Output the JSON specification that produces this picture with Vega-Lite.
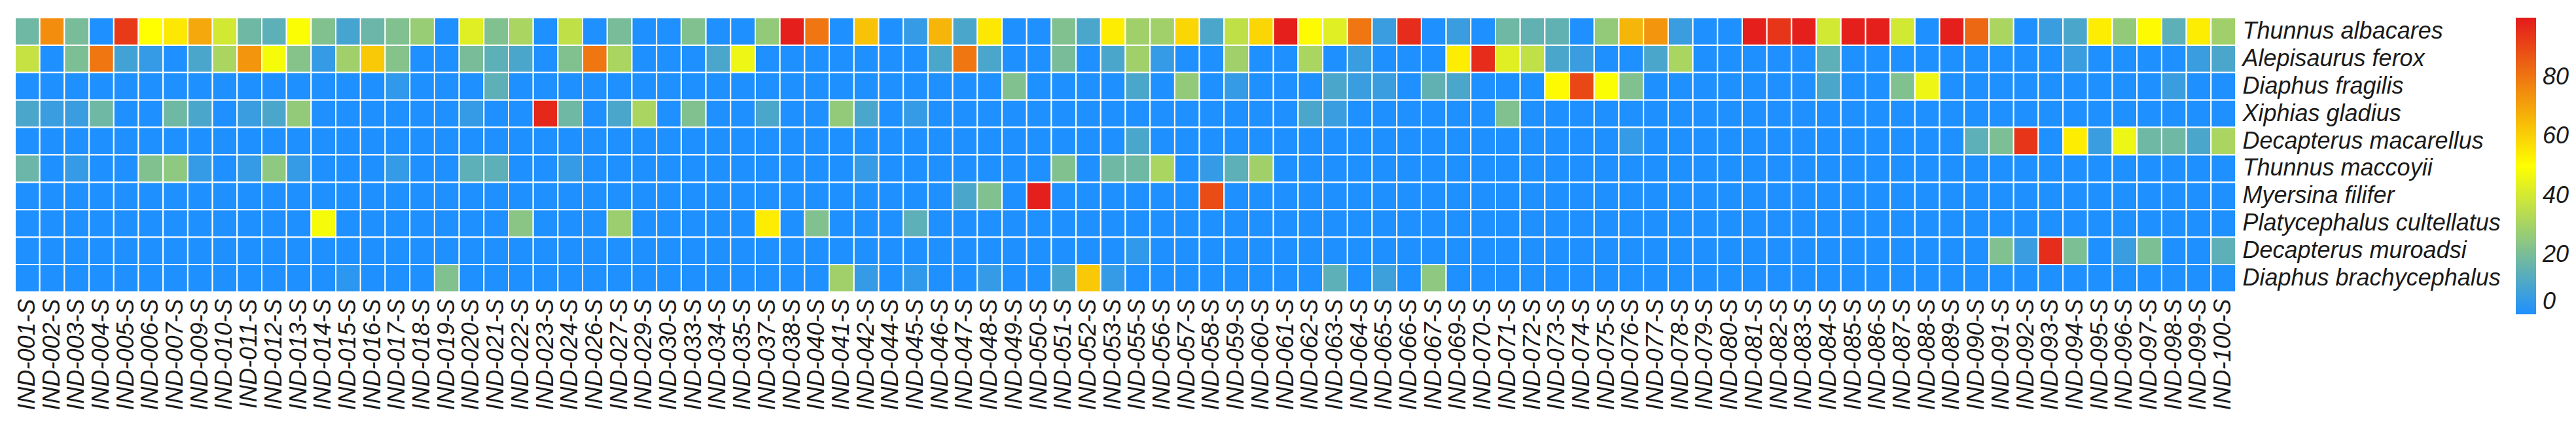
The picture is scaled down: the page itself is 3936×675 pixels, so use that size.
{
"$schema": "https://vega.github.io/schema/vega-lite/v6.json",
"width": 3393,
"height": 419,
"autosize": {"type": "none"},
"padding": {"left": 23, "top": 27, "right": 520, "bottom": 229},
"background": "white",
"config": {"view": {"stroke": null}, "font": "Liberation Sans"},
"datasets": {
"species": [
{"r":1,"name":"Thunnus albacares"},{"r":2,"name":"Alepisaurus ferox"},{"r":3,"name":"Diaphus fragilis"},{"r":4,"name":"Xiphias gladius"},{"r":5,"name":"Decapterus macarellus"},{"r":6,"name":"Thunnus maccoyii"},{"r":7,"name":"Myersina filifer"},{"r":8,"name":"Platycephalus cultellatus"},{"r":9,"name":"Decapterus muroadsi"},{"r":10,"name":"Diaphus brachycephalus"}
]
},
"data": {"values": [
{"s":"IND-001-S","r":1,"v":18},{"s":"IND-002-S","r":1,"v":75},{"s":"IND-003-S","r":1,"v":20},{"s":"IND-004-S","r":1,"v":0},{"s":"IND-005-S","r":1,"v":93},{"s":"IND-006-S","r":1,"v":50},{"s":"IND-007-S","r":1,"v":55},{"s":"IND-009-S","r":1,"v":69},{"s":"IND-010-S","r":1,"v":40},{"s":"IND-011-S","r":1,"v":18},{"s":"IND-012-S","r":1,"v":14},{"s":"IND-013-S","r":1,"v":49},{"s":"IND-014-S","r":1,"v":22},{"s":"IND-015-S","r":1,"v":9},{"s":"IND-016-S","r":1,"v":17},{"s":"IND-017-S","r":1,"v":22},{"s":"IND-018-S","r":1,"v":27},{"s":"IND-019-S","r":1,"v":0},
{"s":"IND-020-S","r":1,"v":43},{"s":"IND-021-S","r":1,"v":22},{"s":"IND-022-S","r":1,"v":31},{"s":"IND-023-S","r":1,"v":0},{"s":"IND-024-S","r":1,"v":36},{"s":"IND-026-S","r":1,"v":0},{"s":"IND-027-S","r":1,"v":20},{"s":"IND-029-S","r":1,"v":0},{"s":"IND-030-S","r":1,"v":0},{"s":"IND-033-S","r":1,"v":22},{"s":"IND-034-S","r":1,"v":0},{"s":"IND-035-S","r":1,"v":0},{"s":"IND-037-S","r":1,"v":26},{"s":"IND-038-S","r":1,"v":99},{"s":"IND-040-S","r":1,"v":80},{"s":"IND-041-S","r":1,"v":0},{"s":"IND-042-S","r":1,"v":63},{"s":"IND-044-S","r":1,"v":0},
{"s":"IND-045-S","r":1,"v":5},{"s":"IND-046-S","r":1,"v":66},{"s":"IND-047-S","r":1,"v":10},{"s":"IND-048-S","r":1,"v":55},{"s":"IND-049-S","r":1,"v":0},{"s":"IND-050-S","r":1,"v":0},{"s":"IND-051-S","r":1,"v":22},{"s":"IND-052-S","r":1,"v":10},{"s":"IND-053-S","r":1,"v":54},{"s":"IND-055-S","r":1,"v":29},{"s":"IND-056-S","r":1,"v":29},{"s":"IND-057-S","r":1,"v":59},{"s":"IND-058-S","r":1,"v":10},{"s":"IND-059-S","r":1,"v":36},{"s":"IND-060-S","r":1,"v":59},{"s":"IND-061-S","r":1,"v":99},{"s":"IND-062-S","r":1,"v":51},{"s":"IND-063-S","r":1,"v":43},
{"s":"IND-064-S","r":1,"v":80},{"s":"IND-065-S","r":1,"v":6},{"s":"IND-066-S","r":1,"v":96},{"s":"IND-067-S","r":1,"v":0},{"s":"IND-069-S","r":1,"v":6},{"s":"IND-070-S","r":1,"v":0},{"s":"IND-071-S","r":1,"v":18},{"s":"IND-072-S","r":1,"v":15},{"s":"IND-073-S","r":1,"v":15},{"s":"IND-074-S","r":1,"v":0},{"s":"IND-075-S","r":1,"v":26},{"s":"IND-076-S","r":1,"v":66},{"s":"IND-077-S","r":1,"v":73},{"s":"IND-078-S","r":1,"v":6},{"s":"IND-079-S","r":1,"v":0},{"s":"IND-080-S","r":1,"v":0},{"s":"IND-081-S","r":1,"v":99},{"s":"IND-082-S","r":1,"v":94},
{"s":"IND-083-S","r":1,"v":99},{"s":"IND-084-S","r":1,"v":40},{"s":"IND-085-S","r":1,"v":99},{"s":"IND-086-S","r":1,"v":99},{"s":"IND-087-S","r":1,"v":40},{"s":"IND-088-S","r":1,"v":0},{"s":"IND-089-S","r":1,"v":99},{"s":"IND-090-S","r":1,"v":83},{"s":"IND-091-S","r":1,"v":31},{"s":"IND-092-S","r":1,"v":0},{"s":"IND-093-S","r":1,"v":6},{"s":"IND-094-S","r":1,"v":10},{"s":"IND-095-S","r":1,"v":54},{"s":"IND-096-S","r":1,"v":26},{"s":"IND-097-S","r":1,"v":51},{"s":"IND-098-S","r":1,"v":14},{"s":"IND-099-S","r":1,"v":54},{"s":"IND-100-S","r":1,"v":29},

{"s":"IND-001-S","r":2,"v":37},{"s":"IND-002-S","r":2,"v":0},{"s":"IND-003-S","r":2,"v":21},{"s":"IND-004-S","r":2,"v":80},{"s":"IND-005-S","r":2,"v":8},{"s":"IND-006-S","r":2,"v":5},{"s":"IND-007-S","r":2,"v":0},{"s":"IND-009-S","r":2,"v":10},{"s":"IND-010-S","r":2,"v":31},{"s":"IND-011-S","r":2,"v":73},{"s":"IND-012-S","r":2,"v":48},{"s":"IND-013-S","r":2,"v":23},{"s":"IND-014-S","r":2,"v":5},{"s":"IND-015-S","r":2,"v":29},{"s":"IND-016-S","r":2,"v":62},{"s":"IND-017-S","r":2,"v":23},{"s":"IND-018-S","r":2,"v":0},{"s":"IND-019-S","r":2,"v":0},
{"s":"IND-020-S","r":2,"v":20},{"s":"IND-021-S","r":2,"v":14},{"s":"IND-022-S","r":2,"v":10},{"s":"IND-023-S","r":2,"v":0},{"s":"IND-024-S","r":2,"v":22},{"s":"IND-026-S","r":2,"v":80},{"s":"IND-027-S","r":2,"v":31},{"s":"IND-029-S","r":2,"v":0},{"s":"IND-030-S","r":2,"v":0},{"s":"IND-033-S","r":2,"v":0},{"s":"IND-034-S","r":2,"v":10},{"s":"IND-035-S","r":2,"v":46},{"s":"IND-037-S","r":2,"v":0},{"s":"IND-038-S","r":2,"v":0},{"s":"IND-040-S","r":2,"v":0},{"s":"IND-041-S","r":2,"v":0},{"s":"IND-042-S","r":2,"v":0},{"s":"IND-044-S","r":2,"v":0},
{"s":"IND-045-S","r":2,"v":0},{"s":"IND-046-S","r":2,"v":10},{"s":"IND-047-S","r":2,"v":80},{"s":"IND-048-S","r":2,"v":10},{"s":"IND-049-S","r":2,"v":0},{"s":"IND-050-S","r":2,"v":0},{"s":"IND-051-S","r":2,"v":20},{"s":"IND-052-S","r":2,"v":0},{"s":"IND-053-S","r":2,"v":10},{"s":"IND-055-S","r":2,"v":29},{"s":"IND-056-S","r":2,"v":5},{"s":"IND-057-S","r":2,"v":0},{"s":"IND-058-S","r":2,"v":0},{"s":"IND-059-S","r":2,"v":29},{"s":"IND-060-S","r":2,"v":0},{"s":"IND-061-S","r":2,"v":0},{"s":"IND-062-S","r":2,"v":31},{"s":"IND-063-S","r":2,"v":0},
{"s":"IND-064-S","r":2,"v":6},{"s":"IND-065-S","r":2,"v":0},{"s":"IND-066-S","r":2,"v":0},{"s":"IND-067-S","r":2,"v":0},{"s":"IND-069-S","r":2,"v":54},{"s":"IND-070-S","r":2,"v":96},{"s":"IND-071-S","r":2,"v":43},{"s":"IND-072-S","r":2,"v":36},{"s":"IND-073-S","r":2,"v":10},{"s":"IND-074-S","r":2,"v":6},{"s":"IND-075-S","r":2,"v":0},{"s":"IND-076-S","r":2,"v":0},{"s":"IND-077-S","r":2,"v":10},{"s":"IND-078-S","r":2,"v":31},{"s":"IND-079-S","r":2,"v":0},{"s":"IND-080-S","r":2,"v":0},{"s":"IND-081-S","r":2,"v":0},{"s":"IND-082-S","r":2,"v":0},
{"s":"IND-083-S","r":2,"v":0},{"s":"IND-084-S","r":2,"v":14},{"s":"IND-085-S","r":2,"v":0},{"s":"IND-086-S","r":2,"v":0},{"s":"IND-087-S","r":2,"v":0},{"s":"IND-088-S","r":2,"v":0},{"s":"IND-089-S","r":2,"v":0},{"s":"IND-090-S","r":2,"v":0},{"s":"IND-091-S","r":2,"v":0},{"s":"IND-092-S","r":2,"v":0},{"s":"IND-093-S","r":2,"v":0},{"s":"IND-094-S","r":2,"v":6},{"s":"IND-095-S","r":2,"v":0},{"s":"IND-096-S","r":2,"v":0},{"s":"IND-097-S","r":2,"v":0},{"s":"IND-098-S","r":2,"v":0},{"s":"IND-099-S","r":2,"v":6},{"s":"IND-100-S","r":2,"v":10},

{"s":"IND-001-S","r":3,"v":0},{"s":"IND-002-S","r":3,"v":0},{"s":"IND-003-S","r":3,"v":0},{"s":"IND-004-S","r":3,"v":0},{"s":"IND-005-S","r":3,"v":0},{"s":"IND-006-S","r":3,"v":0},{"s":"IND-007-S","r":3,"v":0},{"s":"IND-009-S","r":3,"v":0},{"s":"IND-010-S","r":3,"v":0},{"s":"IND-011-S","r":3,"v":0},{"s":"IND-012-S","r":3,"v":0},{"s":"IND-013-S","r":3,"v":0},{"s":"IND-014-S","r":3,"v":0},{"s":"IND-015-S","r":3,"v":0},{"s":"IND-016-S","r":3,"v":0},{"s":"IND-017-S","r":3,"v":4},{"s":"IND-018-S","r":3,"v":0},{"s":"IND-019-S","r":3,"v":0},
{"s":"IND-020-S","r":3,"v":0},{"s":"IND-021-S","r":3,"v":14},{"s":"IND-022-S","r":3,"v":0},{"s":"IND-023-S","r":3,"v":0},{"s":"IND-024-S","r":3,"v":0},{"s":"IND-026-S","r":3,"v":0},{"s":"IND-027-S","r":3,"v":0},{"s":"IND-029-S","r":3,"v":0},{"s":"IND-030-S","r":3,"v":0},{"s":"IND-033-S","r":3,"v":0},{"s":"IND-034-S","r":3,"v":0},{"s":"IND-035-S","r":3,"v":0},{"s":"IND-037-S","r":3,"v":0},{"s":"IND-038-S","r":3,"v":0},{"s":"IND-040-S","r":3,"v":0},{"s":"IND-041-S","r":3,"v":0},{"s":"IND-042-S","r":3,"v":0},{"s":"IND-044-S","r":3,"v":0},
{"s":"IND-045-S","r":3,"v":0},{"s":"IND-046-S","r":3,"v":0},{"s":"IND-047-S","r":3,"v":0},{"s":"IND-048-S","r":3,"v":0},{"s":"IND-049-S","r":3,"v":22},{"s":"IND-050-S","r":3,"v":0},{"s":"IND-051-S","r":3,"v":0},{"s":"IND-052-S","r":3,"v":0},{"s":"IND-053-S","r":3,"v":0},{"s":"IND-055-S","r":3,"v":10},{"s":"IND-056-S","r":3,"v":0},{"s":"IND-057-S","r":3,"v":26},{"s":"IND-058-S","r":3,"v":0},{"s":"IND-059-S","r":3,"v":5},{"s":"IND-060-S","r":3,"v":0},{"s":"IND-061-S","r":3,"v":0},{"s":"IND-062-S","r":3,"v":0},{"s":"IND-063-S","r":3,"v":10},
{"s":"IND-064-S","r":3,"v":6},{"s":"IND-065-S","r":3,"v":6},{"s":"IND-066-S","r":3,"v":0},{"s":"IND-067-S","r":3,"v":15},{"s":"IND-069-S","r":3,"v":10},{"s":"IND-070-S","r":3,"v":0},{"s":"IND-071-S","r":3,"v":0},{"s":"IND-072-S","r":3,"v":0},{"s":"IND-073-S","r":3,"v":51},{"s":"IND-074-S","r":3,"v":90},{"s":"IND-075-S","r":3,"v":49},{"s":"IND-076-S","r":3,"v":22},{"s":"IND-077-S","r":3,"v":0},{"s":"IND-078-S","r":3,"v":0},{"s":"IND-079-S","r":3,"v":0},{"s":"IND-080-S","r":3,"v":0},{"s":"IND-081-S","r":3,"v":0},{"s":"IND-082-S","r":3,"v":0},
{"s":"IND-083-S","r":3,"v":0},{"s":"IND-084-S","r":3,"v":10},{"s":"IND-085-S","r":3,"v":0},{"s":"IND-086-S","r":3,"v":0},{"s":"IND-087-S","r":3,"v":22},{"s":"IND-088-S","r":3,"v":46},{"s":"IND-089-S","r":3,"v":0},{"s":"IND-090-S","r":3,"v":0},{"s":"IND-091-S","r":3,"v":0},{"s":"IND-092-S","r":3,"v":0},{"s":"IND-093-S","r":3,"v":0},{"s":"IND-094-S","r":3,"v":0},{"s":"IND-095-S","r":3,"v":0},{"s":"IND-096-S","r":3,"v":0},{"s":"IND-097-S","r":3,"v":0},{"s":"IND-098-S","r":3,"v":6},{"s":"IND-099-S","r":3,"v":0},{"s":"IND-100-S","r":3,"v":0},

{"s":"IND-001-S","r":4,"v":10},{"s":"IND-002-S","r":4,"v":6},{"s":"IND-003-S","r":4,"v":6},{"s":"IND-004-S","r":4,"v":18},{"s":"IND-005-S","r":4,"v":0},{"s":"IND-006-S","r":4,"v":0},{"s":"IND-007-S","r":4,"v":18},{"s":"IND-009-S","r":4,"v":10},{"s":"IND-010-S","r":4,"v":0},{"s":"IND-011-S","r":4,"v":6},{"s":"IND-012-S","r":4,"v":10},{"s":"IND-013-S","r":4,"v":26},{"s":"IND-014-S","r":4,"v":0},{"s":"IND-015-S","r":4,"v":0},{"s":"IND-016-S","r":4,"v":0},{"s":"IND-017-S","r":4,"v":0},{"s":"IND-018-S","r":4,"v":0},{"s":"IND-019-S","r":4,"v":0},
{"s":"IND-020-S","r":4,"v":5},{"s":"IND-021-S","r":4,"v":0},{"s":"IND-022-S","r":4,"v":0},{"s":"IND-023-S","r":4,"v":97},{"s":"IND-024-S","r":4,"v":18},{"s":"IND-026-S","r":4,"v":0},{"s":"IND-027-S","r":4,"v":10},{"s":"IND-029-S","r":4,"v":31},{"s":"IND-030-S","r":4,"v":0},{"s":"IND-033-S","r":4,"v":22},{"s":"IND-034-S","r":4,"v":0},{"s":"IND-035-S","r":4,"v":0},{"s":"IND-037-S","r":4,"v":10},{"s":"IND-038-S","r":4,"v":0},{"s":"IND-040-S","r":4,"v":0},{"s":"IND-041-S","r":4,"v":26},{"s":"IND-042-S","r":4,"v":10},{"s":"IND-044-S","r":4,"v":0},
{"s":"IND-045-S","r":4,"v":5},{"s":"IND-046-S","r":4,"v":0},{"s":"IND-047-S","r":4,"v":0},{"s":"IND-048-S","r":4,"v":0},{"s":"IND-049-S","r":4,"v":0},{"s":"IND-050-S","r":4,"v":0},{"s":"IND-051-S","r":4,"v":0},{"s":"IND-052-S","r":4,"v":0},{"s":"IND-053-S","r":4,"v":0},{"s":"IND-055-S","r":4,"v":0},{"s":"IND-056-S","r":4,"v":0},{"s":"IND-057-S","r":4,"v":0},{"s":"IND-058-S","r":4,"v":0},{"s":"IND-059-S","r":4,"v":0},{"s":"IND-060-S","r":4,"v":0},{"s":"IND-061-S","r":4,"v":0},{"s":"IND-062-S","r":4,"v":10},{"s":"IND-063-S","r":4,"v":6},
{"s":"IND-064-S","r":4,"v":0},{"s":"IND-065-S","r":4,"v":0},{"s":"IND-066-S","r":4,"v":0},{"s":"IND-067-S","r":4,"v":0},{"s":"IND-069-S","r":4,"v":0},{"s":"IND-070-S","r":4,"v":0},{"s":"IND-071-S","r":4,"v":22},{"s":"IND-072-S","r":4,"v":0},{"s":"IND-073-S","r":4,"v":0},{"s":"IND-074-S","r":4,"v":0},{"s":"IND-075-S","r":4,"v":0},{"s":"IND-076-S","r":4,"v":0},{"s":"IND-077-S","r":4,"v":0},{"s":"IND-078-S","r":4,"v":0},{"s":"IND-079-S","r":4,"v":0},{"s":"IND-080-S","r":4,"v":0},{"s":"IND-081-S","r":4,"v":0},{"s":"IND-082-S","r":4,"v":0},
{"s":"IND-083-S","r":4,"v":0},{"s":"IND-084-S","r":4,"v":0},{"s":"IND-085-S","r":4,"v":0},{"s":"IND-086-S","r":4,"v":0},{"s":"IND-087-S","r":4,"v":0},{"s":"IND-088-S","r":4,"v":0},{"s":"IND-089-S","r":4,"v":0},{"s":"IND-090-S","r":4,"v":0},{"s":"IND-091-S","r":4,"v":0},{"s":"IND-092-S","r":4,"v":0},{"s":"IND-093-S","r":4,"v":0},{"s":"IND-094-S","r":4,"v":0},{"s":"IND-095-S","r":4,"v":0},{"s":"IND-096-S","r":4,"v":0},{"s":"IND-097-S","r":4,"v":0},{"s":"IND-098-S","r":4,"v":0},{"s":"IND-099-S","r":4,"v":0},{"s":"IND-100-S","r":4,"v":0},

{"s":"IND-001-S","r":5,"v":0},{"s":"IND-002-S","r":5,"v":0},{"s":"IND-003-S","r":5,"v":0},{"s":"IND-004-S","r":5,"v":0},{"s":"IND-005-S","r":5,"v":0},{"s":"IND-006-S","r":5,"v":0},{"s":"IND-007-S","r":5,"v":0},{"s":"IND-009-S","r":5,"v":0},{"s":"IND-010-S","r":5,"v":0},{"s":"IND-011-S","r":5,"v":0},{"s":"IND-012-S","r":5,"v":0},{"s":"IND-013-S","r":5,"v":0},{"s":"IND-014-S","r":5,"v":0},{"s":"IND-015-S","r":5,"v":0},{"s":"IND-016-S","r":5,"v":0},{"s":"IND-017-S","r":5,"v":0},{"s":"IND-018-S","r":5,"v":0},{"s":"IND-019-S","r":5,"v":0},
{"s":"IND-020-S","r":5,"v":0},{"s":"IND-021-S","r":5,"v":0},{"s":"IND-022-S","r":5,"v":0},{"s":"IND-023-S","r":5,"v":0},{"s":"IND-024-S","r":5,"v":0},{"s":"IND-026-S","r":5,"v":0},{"s":"IND-027-S","r":5,"v":0},{"s":"IND-029-S","r":5,"v":0},{"s":"IND-030-S","r":5,"v":0},{"s":"IND-033-S","r":5,"v":0},{"s":"IND-034-S","r":5,"v":0},{"s":"IND-035-S","r":5,"v":0},{"s":"IND-037-S","r":5,"v":0},{"s":"IND-038-S","r":5,"v":0},{"s":"IND-040-S","r":5,"v":0},{"s":"IND-041-S","r":5,"v":0},{"s":"IND-042-S","r":5,"v":0},{"s":"IND-044-S","r":5,"v":0},
{"s":"IND-045-S","r":5,"v":0},{"s":"IND-046-S","r":5,"v":0},{"s":"IND-047-S","r":5,"v":0},{"s":"IND-048-S","r":5,"v":0},{"s":"IND-049-S","r":5,"v":0},{"s":"IND-050-S","r":5,"v":0},{"s":"IND-051-S","r":5,"v":0},{"s":"IND-052-S","r":5,"v":0},{"s":"IND-053-S","r":5,"v":0},{"s":"IND-055-S","r":5,"v":10},{"s":"IND-056-S","r":5,"v":0},{"s":"IND-057-S","r":5,"v":0},{"s":"IND-058-S","r":5,"v":0},{"s":"IND-059-S","r":5,"v":0},{"s":"IND-060-S","r":5,"v":0},{"s":"IND-061-S","r":5,"v":0},{"s":"IND-062-S","r":5,"v":0},{"s":"IND-063-S","r":5,"v":0},
{"s":"IND-064-S","r":5,"v":0},{"s":"IND-065-S","r":5,"v":0},{"s":"IND-066-S","r":5,"v":0},{"s":"IND-067-S","r":5,"v":0},{"s":"IND-069-S","r":5,"v":0},{"s":"IND-070-S","r":5,"v":0},{"s":"IND-071-S","r":5,"v":0},{"s":"IND-072-S","r":5,"v":0},{"s":"IND-073-S","r":5,"v":0},{"s":"IND-074-S","r":5,"v":0},{"s":"IND-075-S","r":5,"v":0},{"s":"IND-076-S","r":5,"v":5},{"s":"IND-077-S","r":5,"v":0},{"s":"IND-078-S","r":5,"v":0},{"s":"IND-079-S","r":5,"v":0},{"s":"IND-080-S","r":5,"v":0},{"s":"IND-081-S","r":5,"v":0},{"s":"IND-082-S","r":5,"v":0},
{"s":"IND-083-S","r":5,"v":0},{"s":"IND-084-S","r":5,"v":0},{"s":"IND-085-S","r":5,"v":0},{"s":"IND-086-S","r":5,"v":0},{"s":"IND-087-S","r":5,"v":0},{"s":"IND-088-S","r":5,"v":0},{"s":"IND-089-S","r":5,"v":0},{"s":"IND-090-S","r":5,"v":14},{"s":"IND-091-S","r":5,"v":21},{"s":"IND-092-S","r":5,"v":94},{"s":"IND-093-S","r":5,"v":0},{"s":"IND-094-S","r":5,"v":54},{"s":"IND-095-S","r":5,"v":6},{"s":"IND-096-S","r":5,"v":46},{"s":"IND-097-S","r":5,"v":18},{"s":"IND-098-S","r":5,"v":18},{"s":"IND-099-S","r":5,"v":10},{"s":"IND-100-S","r":5,"v":31},

{"s":"IND-001-S","r":6,"v":17},{"s":"IND-002-S","r":6,"v":0},{"s":"IND-003-S","r":6,"v":5},{"s":"IND-004-S","r":6,"v":0},{"s":"IND-005-S","r":6,"v":0},{"s":"IND-006-S","r":6,"v":22},{"s":"IND-007-S","r":6,"v":25},{"s":"IND-009-S","r":6,"v":5},{"s":"IND-010-S","r":6,"v":0},{"s":"IND-011-S","r":6,"v":5},{"s":"IND-012-S","r":6,"v":25},{"s":"IND-013-S","r":6,"v":5},{"s":"IND-014-S","r":6,"v":0},{"s":"IND-015-S","r":6,"v":0},{"s":"IND-016-S","r":6,"v":0},{"s":"IND-017-S","r":6,"v":5},{"s":"IND-018-S","r":6,"v":0},{"s":"IND-019-S","r":6,"v":0},
{"s":"IND-020-S","r":6,"v":14},{"s":"IND-021-S","r":6,"v":14},{"s":"IND-022-S","r":6,"v":0},{"s":"IND-023-S","r":6,"v":0},{"s":"IND-024-S","r":6,"v":5},{"s":"IND-026-S","r":6,"v":0},{"s":"IND-027-S","r":6,"v":0},{"s":"IND-029-S","r":6,"v":0},{"s":"IND-030-S","r":6,"v":0},{"s":"IND-033-S","r":6,"v":0},{"s":"IND-034-S","r":6,"v":0},{"s":"IND-035-S","r":6,"v":0},{"s":"IND-037-S","r":6,"v":0},{"s":"IND-038-S","r":6,"v":0},{"s":"IND-040-S","r":6,"v":0},{"s":"IND-041-S","r":6,"v":0},{"s":"IND-042-S","r":6,"v":5},{"s":"IND-044-S","r":6,"v":0},
{"s":"IND-045-S","r":6,"v":0},{"s":"IND-046-S","r":6,"v":0},{"s":"IND-047-S","r":6,"v":0},{"s":"IND-048-S","r":6,"v":0},{"s":"IND-049-S","r":6,"v":0},{"s":"IND-050-S","r":6,"v":0},{"s":"IND-051-S","r":6,"v":22},{"s":"IND-052-S","r":6,"v":0},{"s":"IND-053-S","r":6,"v":18},{"s":"IND-055-S","r":6,"v":18},{"s":"IND-056-S","r":6,"v":31},{"s":"IND-057-S","r":6,"v":0},{"s":"IND-058-S","r":6,"v":5},{"s":"IND-059-S","r":6,"v":14},{"s":"IND-060-S","r":6,"v":29},{"s":"IND-061-S","r":6,"v":0},{"s":"IND-062-S","r":6,"v":0},{"s":"IND-063-S","r":6,"v":0},
{"s":"IND-064-S","r":6,"v":0},{"s":"IND-065-S","r":6,"v":0},{"s":"IND-066-S","r":6,"v":0},{"s":"IND-067-S","r":6,"v":0},{"s":"IND-069-S","r":6,"v":0},{"s":"IND-070-S","r":6,"v":0},{"s":"IND-071-S","r":6,"v":0},{"s":"IND-072-S","r":6,"v":0},{"s":"IND-073-S","r":6,"v":0},{"s":"IND-074-S","r":6,"v":0},{"s":"IND-075-S","r":6,"v":0},{"s":"IND-076-S","r":6,"v":0},{"s":"IND-077-S","r":6,"v":0},{"s":"IND-078-S","r":6,"v":0},{"s":"IND-079-S","r":6,"v":0},{"s":"IND-080-S","r":6,"v":0},{"s":"IND-081-S","r":6,"v":0},{"s":"IND-082-S","r":6,"v":0},
{"s":"IND-083-S","r":6,"v":0},{"s":"IND-084-S","r":6,"v":0},{"s":"IND-085-S","r":6,"v":0},{"s":"IND-086-S","r":6,"v":0},{"s":"IND-087-S","r":6,"v":0},{"s":"IND-088-S","r":6,"v":0},{"s":"IND-089-S","r":6,"v":0},{"s":"IND-090-S","r":6,"v":0},{"s":"IND-091-S","r":6,"v":0},{"s":"IND-092-S","r":6,"v":0},{"s":"IND-093-S","r":6,"v":0},{"s":"IND-094-S","r":6,"v":0},{"s":"IND-095-S","r":6,"v":0},{"s":"IND-096-S","r":6,"v":0},{"s":"IND-097-S","r":6,"v":0},{"s":"IND-098-S","r":6,"v":0},{"s":"IND-099-S","r":6,"v":0},{"s":"IND-100-S","r":6,"v":0},

{"s":"IND-001-S","r":7,"v":0},{"s":"IND-002-S","r":7,"v":0},{"s":"IND-003-S","r":7,"v":0},{"s":"IND-004-S","r":7,"v":0},{"s":"IND-005-S","r":7,"v":0},{"s":"IND-006-S","r":7,"v":0},{"s":"IND-007-S","r":7,"v":0},{"s":"IND-009-S","r":7,"v":0},{"s":"IND-010-S","r":7,"v":0},{"s":"IND-011-S","r":7,"v":0},{"s":"IND-012-S","r":7,"v":0},{"s":"IND-013-S","r":7,"v":0},{"s":"IND-014-S","r":7,"v":0},{"s":"IND-015-S","r":7,"v":0},{"s":"IND-016-S","r":7,"v":0},{"s":"IND-017-S","r":7,"v":0},{"s":"IND-018-S","r":7,"v":0},{"s":"IND-019-S","r":7,"v":0},
{"s":"IND-020-S","r":7,"v":0},{"s":"IND-021-S","r":7,"v":0},{"s":"IND-022-S","r":7,"v":0},{"s":"IND-023-S","r":7,"v":0},{"s":"IND-024-S","r":7,"v":0},{"s":"IND-026-S","r":7,"v":0},{"s":"IND-027-S","r":7,"v":0},{"s":"IND-029-S","r":7,"v":0},{"s":"IND-030-S","r":7,"v":0},{"s":"IND-033-S","r":7,"v":0},{"s":"IND-034-S","r":7,"v":0},{"s":"IND-035-S","r":7,"v":0},{"s":"IND-037-S","r":7,"v":0},{"s":"IND-038-S","r":7,"v":0},{"s":"IND-040-S","r":7,"v":0},{"s":"IND-041-S","r":7,"v":0},{"s":"IND-042-S","r":7,"v":0},{"s":"IND-044-S","r":7,"v":0},
{"s":"IND-045-S","r":7,"v":0},{"s":"IND-046-S","r":7,"v":0},{"s":"IND-047-S","r":7,"v":10},{"s":"IND-048-S","r":7,"v":22},{"s":"IND-049-S","r":7,"v":0},{"s":"IND-050-S","r":7,"v":99},{"s":"IND-051-S","r":7,"v":0},{"s":"IND-052-S","r":7,"v":0},{"s":"IND-053-S","r":7,"v":0},{"s":"IND-055-S","r":7,"v":0},{"s":"IND-056-S","r":7,"v":0},{"s":"IND-057-S","r":7,"v":0},{"s":"IND-058-S","r":7,"v":89},{"s":"IND-059-S","r":7,"v":0},{"s":"IND-060-S","r":7,"v":0},{"s":"IND-061-S","r":7,"v":0},{"s":"IND-062-S","r":7,"v":0},{"s":"IND-063-S","r":7,"v":0},
{"s":"IND-064-S","r":7,"v":0},{"s":"IND-065-S","r":7,"v":0},{"s":"IND-066-S","r":7,"v":0},{"s":"IND-067-S","r":7,"v":0},{"s":"IND-069-S","r":7,"v":0},{"s":"IND-070-S","r":7,"v":0},{"s":"IND-071-S","r":7,"v":0},{"s":"IND-072-S","r":7,"v":0},{"s":"IND-073-S","r":7,"v":0},{"s":"IND-074-S","r":7,"v":0},{"s":"IND-075-S","r":7,"v":0},{"s":"IND-076-S","r":7,"v":0},{"s":"IND-077-S","r":7,"v":0},{"s":"IND-078-S","r":7,"v":0},{"s":"IND-079-S","r":7,"v":0},{"s":"IND-080-S","r":7,"v":0},{"s":"IND-081-S","r":7,"v":0},{"s":"IND-082-S","r":7,"v":0},
{"s":"IND-083-S","r":7,"v":0},{"s":"IND-084-S","r":7,"v":0},{"s":"IND-085-S","r":7,"v":0},{"s":"IND-086-S","r":7,"v":0},{"s":"IND-087-S","r":7,"v":0},{"s":"IND-088-S","r":7,"v":0},{"s":"IND-089-S","r":7,"v":0},{"s":"IND-090-S","r":7,"v":0},{"s":"IND-091-S","r":7,"v":0},{"s":"IND-092-S","r":7,"v":0},{"s":"IND-093-S","r":7,"v":0},{"s":"IND-094-S","r":7,"v":0},{"s":"IND-095-S","r":7,"v":0},{"s":"IND-096-S","r":7,"v":0},{"s":"IND-097-S","r":7,"v":0},{"s":"IND-098-S","r":7,"v":0},{"s":"IND-099-S","r":7,"v":0},{"s":"IND-100-S","r":7,"v":0},

{"s":"IND-001-S","r":8,"v":0},{"s":"IND-002-S","r":8,"v":0},{"s":"IND-003-S","r":8,"v":0},{"s":"IND-004-S","r":8,"v":0},{"s":"IND-005-S","r":8,"v":0},{"s":"IND-006-S","r":8,"v":0},{"s":"IND-007-S","r":8,"v":0},{"s":"IND-009-S","r":8,"v":0},{"s":"IND-010-S","r":8,"v":0},{"s":"IND-011-S","r":8,"v":0},{"s":"IND-012-S","r":8,"v":0},{"s":"IND-013-S","r":8,"v":0},{"s":"IND-014-S","r":8,"v":48},{"s":"IND-015-S","r":8,"v":0},{"s":"IND-016-S","r":8,"v":0},{"s":"IND-017-S","r":8,"v":0},{"s":"IND-018-S","r":8,"v":0},{"s":"IND-019-S","r":8,"v":0},
{"s":"IND-020-S","r":8,"v":0},{"s":"IND-021-S","r":8,"v":0},{"s":"IND-022-S","r":8,"v":24},{"s":"IND-023-S","r":8,"v":0},{"s":"IND-024-S","r":8,"v":0},{"s":"IND-026-S","r":8,"v":0},{"s":"IND-027-S","r":8,"v":28},{"s":"IND-029-S","r":8,"v":0},{"s":"IND-030-S","r":8,"v":0},{"s":"IND-033-S","r":8,"v":0},{"s":"IND-034-S","r":8,"v":0},{"s":"IND-035-S","r":8,"v":0},{"s":"IND-037-S","r":8,"v":54},{"s":"IND-038-S","r":8,"v":0},{"s":"IND-040-S","r":8,"v":22},{"s":"IND-041-S","r":8,"v":0},{"s":"IND-042-S","r":8,"v":0},{"s":"IND-044-S","r":8,"v":0},
{"s":"IND-045-S","r":8,"v":14},{"s":"IND-046-S","r":8,"v":0},{"s":"IND-047-S","r":8,"v":0},{"s":"IND-048-S","r":8,"v":0},{"s":"IND-049-S","r":8,"v":0},{"s":"IND-050-S","r":8,"v":0},{"s":"IND-051-S","r":8,"v":0},{"s":"IND-052-S","r":8,"v":0},{"s":"IND-053-S","r":8,"v":0},{"s":"IND-055-S","r":8,"v":0},{"s":"IND-056-S","r":8,"v":0},{"s":"IND-057-S","r":8,"v":0},{"s":"IND-058-S","r":8,"v":0},{"s":"IND-059-S","r":8,"v":0},{"s":"IND-060-S","r":8,"v":0},{"s":"IND-061-S","r":8,"v":0},{"s":"IND-062-S","r":8,"v":0},{"s":"IND-063-S","r":8,"v":0},
{"s":"IND-064-S","r":8,"v":0},{"s":"IND-065-S","r":8,"v":0},{"s":"IND-066-S","r":8,"v":0},{"s":"IND-067-S","r":8,"v":0},{"s":"IND-069-S","r":8,"v":0},{"s":"IND-070-S","r":8,"v":0},{"s":"IND-071-S","r":8,"v":0},{"s":"IND-072-S","r":8,"v":0},{"s":"IND-073-S","r":8,"v":0},{"s":"IND-074-S","r":8,"v":0},{"s":"IND-075-S","r":8,"v":0},{"s":"IND-076-S","r":8,"v":0},{"s":"IND-077-S","r":8,"v":0},{"s":"IND-078-S","r":8,"v":0},{"s":"IND-079-S","r":8,"v":0},{"s":"IND-080-S","r":8,"v":0},{"s":"IND-081-S","r":8,"v":0},{"s":"IND-082-S","r":8,"v":0},
{"s":"IND-083-S","r":8,"v":0},{"s":"IND-084-S","r":8,"v":0},{"s":"IND-085-S","r":8,"v":0},{"s":"IND-086-S","r":8,"v":0},{"s":"IND-087-S","r":8,"v":0},{"s":"IND-088-S","r":8,"v":0},{"s":"IND-089-S","r":8,"v":0},{"s":"IND-090-S","r":8,"v":0},{"s":"IND-091-S","r":8,"v":0},{"s":"IND-092-S","r":8,"v":0},{"s":"IND-093-S","r":8,"v":0},{"s":"IND-094-S","r":8,"v":0},{"s":"IND-095-S","r":8,"v":0},{"s":"IND-096-S","r":8,"v":0},{"s":"IND-097-S","r":8,"v":0},{"s":"IND-098-S","r":8,"v":0},{"s":"IND-099-S","r":8,"v":0},{"s":"IND-100-S","r":8,"v":0},

{"s":"IND-001-S","r":9,"v":0},{"s":"IND-002-S","r":9,"v":0},{"s":"IND-003-S","r":9,"v":0},{"s":"IND-004-S","r":9,"v":0},{"s":"IND-005-S","r":9,"v":0},{"s":"IND-006-S","r":9,"v":0},{"s":"IND-007-S","r":9,"v":0},{"s":"IND-009-S","r":9,"v":0},{"s":"IND-010-S","r":9,"v":0},{"s":"IND-011-S","r":9,"v":0},{"s":"IND-012-S","r":9,"v":0},{"s":"IND-013-S","r":9,"v":0},{"s":"IND-014-S","r":9,"v":0},{"s":"IND-015-S","r":9,"v":0},{"s":"IND-016-S","r":9,"v":0},{"s":"IND-017-S","r":9,"v":0},{"s":"IND-018-S","r":9,"v":0},{"s":"IND-019-S","r":9,"v":0},
{"s":"IND-020-S","r":9,"v":0},{"s":"IND-021-S","r":9,"v":0},{"s":"IND-022-S","r":9,"v":0},{"s":"IND-023-S","r":9,"v":0},{"s":"IND-024-S","r":9,"v":0},{"s":"IND-026-S","r":9,"v":0},{"s":"IND-027-S","r":9,"v":0},{"s":"IND-029-S","r":9,"v":0},{"s":"IND-030-S","r":9,"v":0},{"s":"IND-033-S","r":9,"v":0},{"s":"IND-034-S","r":9,"v":0},{"s":"IND-035-S","r":9,"v":0},{"s":"IND-037-S","r":9,"v":0},{"s":"IND-038-S","r":9,"v":0},{"s":"IND-040-S","r":9,"v":0},{"s":"IND-041-S","r":9,"v":0},{"s":"IND-042-S","r":9,"v":0},{"s":"IND-044-S","r":9,"v":0},
{"s":"IND-045-S","r":9,"v":0},{"s":"IND-046-S","r":9,"v":0},{"s":"IND-047-S","r":9,"v":0},{"s":"IND-048-S","r":9,"v":0},{"s":"IND-049-S","r":9,"v":0},{"s":"IND-050-S","r":9,"v":0},{"s":"IND-051-S","r":9,"v":0},{"s":"IND-052-S","r":9,"v":0},{"s":"IND-053-S","r":9,"v":0},{"s":"IND-055-S","r":9,"v":4},{"s":"IND-056-S","r":9,"v":0},{"s":"IND-057-S","r":9,"v":0},{"s":"IND-058-S","r":9,"v":0},{"s":"IND-059-S","r":9,"v":0},{"s":"IND-060-S","r":9,"v":0},{"s":"IND-061-S","r":9,"v":0},{"s":"IND-062-S","r":9,"v":0},{"s":"IND-063-S","r":9,"v":0},
{"s":"IND-064-S","r":9,"v":0},{"s":"IND-065-S","r":9,"v":0},{"s":"IND-066-S","r":9,"v":0},{"s":"IND-067-S","r":9,"v":0},{"s":"IND-069-S","r":9,"v":0},{"s":"IND-070-S","r":9,"v":0},{"s":"IND-071-S","r":9,"v":0},{"s":"IND-072-S","r":9,"v":0},{"s":"IND-073-S","r":9,"v":0},{"s":"IND-074-S","r":9,"v":0},{"s":"IND-075-S","r":9,"v":0},{"s":"IND-076-S","r":9,"v":0},{"s":"IND-077-S","r":9,"v":0},{"s":"IND-078-S","r":9,"v":0},{"s":"IND-079-S","r":9,"v":0},{"s":"IND-080-S","r":9,"v":0},{"s":"IND-081-S","r":9,"v":0},{"s":"IND-082-S","r":9,"v":0},
{"s":"IND-083-S","r":9,"v":0},{"s":"IND-084-S","r":9,"v":0},{"s":"IND-085-S","r":9,"v":0},{"s":"IND-086-S","r":9,"v":0},{"s":"IND-087-S","r":9,"v":0},{"s":"IND-088-S","r":9,"v":0},{"s":"IND-089-S","r":9,"v":0},{"s":"IND-090-S","r":9,"v":0},{"s":"IND-091-S","r":9,"v":22},{"s":"IND-092-S","r":9,"v":6},{"s":"IND-093-S","r":9,"v":96},{"s":"IND-094-S","r":9,"v":21},{"s":"IND-095-S","r":9,"v":0},{"s":"IND-096-S","r":9,"v":6},{"s":"IND-097-S","r":9,"v":21},{"s":"IND-098-S","r":9,"v":0},{"s":"IND-099-S","r":9,"v":0},{"s":"IND-100-S","r":9,"v":14},

{"s":"IND-001-S","r":10,"v":0},{"s":"IND-002-S","r":10,"v":0},{"s":"IND-003-S","r":10,"v":0},{"s":"IND-004-S","r":10,"v":0},{"s":"IND-005-S","r":10,"v":0},{"s":"IND-006-S","r":10,"v":0},{"s":"IND-007-S","r":10,"v":0},{"s":"IND-009-S","r":10,"v":0},{"s":"IND-010-S","r":10,"v":0},{"s":"IND-011-S","r":10,"v":0},{"s":"IND-012-S","r":10,"v":0},{"s":"IND-013-S","r":10,"v":0},{"s":"IND-014-S","r":10,"v":0},{"s":"IND-015-S","r":10,"v":3},{"s":"IND-016-S","r":10,"v":0},{"s":"IND-017-S","r":10,"v":0},{"s":"IND-018-S","r":10,"v":0},{"s":"IND-019-S","r":10,"v":22},
{"s":"IND-020-S","r":10,"v":0},{"s":"IND-021-S","r":10,"v":0},{"s":"IND-022-S","r":10,"v":0},{"s":"IND-023-S","r":10,"v":0},{"s":"IND-024-S","r":10,"v":0},{"s":"IND-026-S","r":10,"v":0},{"s":"IND-027-S","r":10,"v":0},{"s":"IND-029-S","r":10,"v":0},{"s":"IND-030-S","r":10,"v":0},{"s":"IND-033-S","r":10,"v":0},{"s":"IND-034-S","r":10,"v":0},{"s":"IND-035-S","r":10,"v":0},{"s":"IND-037-S","r":10,"v":0},{"s":"IND-038-S","r":10,"v":0},{"s":"IND-040-S","r":10,"v":0},{"s":"IND-041-S","r":10,"v":29},{"s":"IND-042-S","r":10,"v":5},{"s":"IND-044-S","r":10,"v":0},
{"s":"IND-045-S","r":10,"v":4},{"s":"IND-046-S","r":10,"v":0},{"s":"IND-047-S","r":10,"v":0},{"s":"IND-048-S","r":10,"v":5},{"s":"IND-049-S","r":10,"v":0},{"s":"IND-050-S","r":10,"v":0},{"s":"IND-051-S","r":10,"v":10},{"s":"IND-052-S","r":10,"v":62},{"s":"IND-053-S","r":10,"v":5},{"s":"IND-055-S","r":10,"v":0},{"s":"IND-056-S","r":10,"v":0},{"s":"IND-057-S","r":10,"v":0},{"s":"IND-058-S","r":10,"v":0},{"s":"IND-059-S","r":10,"v":0},{"s":"IND-060-S","r":10,"v":0},{"s":"IND-061-S","r":10,"v":0},{"s":"IND-062-S","r":10,"v":0},{"s":"IND-063-S","r":10,"v":14},
{"s":"IND-064-S","r":10,"v":0},{"s":"IND-065-S","r":10,"v":7},{"s":"IND-066-S","r":10,"v":0},{"s":"IND-067-S","r":10,"v":25},{"s":"IND-069-S","r":10,"v":0},{"s":"IND-070-S","r":10,"v":0},{"s":"IND-071-S","r":10,"v":0},{"s":"IND-072-S","r":10,"v":0},{"s":"IND-073-S","r":10,"v":0},{"s":"IND-074-S","r":10,"v":0},{"s":"IND-075-S","r":10,"v":0},{"s":"IND-076-S","r":10,"v":0},{"s":"IND-077-S","r":10,"v":0},{"s":"IND-078-S","r":10,"v":0},{"s":"IND-079-S","r":10,"v":0},{"s":"IND-080-S","r":10,"v":0},{"s":"IND-081-S","r":10,"v":0},{"s":"IND-082-S","r":10,"v":0},
{"s":"IND-083-S","r":10,"v":0},{"s":"IND-084-S","r":10,"v":0},{"s":"IND-085-S","r":10,"v":0},{"s":"IND-086-S","r":10,"v":0},{"s":"IND-087-S","r":10,"v":0},{"s":"IND-088-S","r":10,"v":0},{"s":"IND-089-S","r":10,"v":0},{"s":"IND-090-S","r":10,"v":0},{"s":"IND-091-S","r":10,"v":0},{"s":"IND-092-S","r":10,"v":0},{"s":"IND-093-S","r":10,"v":0},{"s":"IND-094-S","r":10,"v":0},{"s":"IND-095-S","r":10,"v":0},{"s":"IND-096-S","r":10,"v":0},{"s":"IND-097-S","r":10,"v":0},{"s":"IND-098-S","r":10,"v":0},{"s":"IND-099-S","r":10,"v":0},{"s":"IND-100-S","r":10,"v":0}
]},
"transform": [
{"lookup": "r", "from": {"data": {"name": "species"}, "key": "r", "fields": ["name"]}}
],
"mark": {"type": "rect", "stroke": "#ffffff", "strokeWidth": 2},
"encoding": {
"x": {"field": "s", "type": "ordinal", "sort": null,
  "scale": {"paddingInner": 0, "paddingOuter": 0},
  "axis": {"title": null, "labelAngle": 270, "labelAlign": "right", "labelBaseline": "middle", "labelPadding": 10, "ticks": false, "domain": false, "labelFont": "Liberation Sans", "labelFontSize": 36, "labelFontStyle": "italic", "labelColor": "#1a1a1a", "labelOverlap": false, "labelLimit": 0}},
"y": {"field": "name", "type": "nominal",
  "sort": ["Thunnus albacares","Alepisaurus ferox","Diaphus fragilis","Xiphias gladius","Decapterus macarellus","Thunnus maccoyii","Myersina filifer","Platycephalus cultellatus","Decapterus muroadsi","Diaphus brachycephalus"],
  "scale": {"paddingInner": 0, "paddingOuter": 0},
  "axis": {"orient": "right", "title": null, "ticks": false, "domain": false, "labelPadding": 10, "labelFont": "Liberation Sans", "labelFontSize": 36, "labelFontStyle": "italic", "labelColor": "#1a1a1a", "labelLimit": 0}},
"color": {"field": "v", "type": "quantitative",
  "scale": {"domain": [0, 50, 100], "range": ["#1E90FF", "#FFFF00", "#E41A1C"], "interpolate": "rgb"},
  "legend": {"orient": "none", "legendX": 3821, "legendY": 0, "direction": "vertical", "title": null, "gradientLength": 453, "gradientThickness": 31, "gradientStrokeWidth": 0, "values": [0, 20, 40, 60, 80], "labelFont": "Liberation Sans", "labelFontSize": 36, "labelFontStyle": "italic", "labelColor": "#1a1a1a", "labelOffset": 10, "labelBaseline": "middle", "labelOverlap": false}}
}
}
